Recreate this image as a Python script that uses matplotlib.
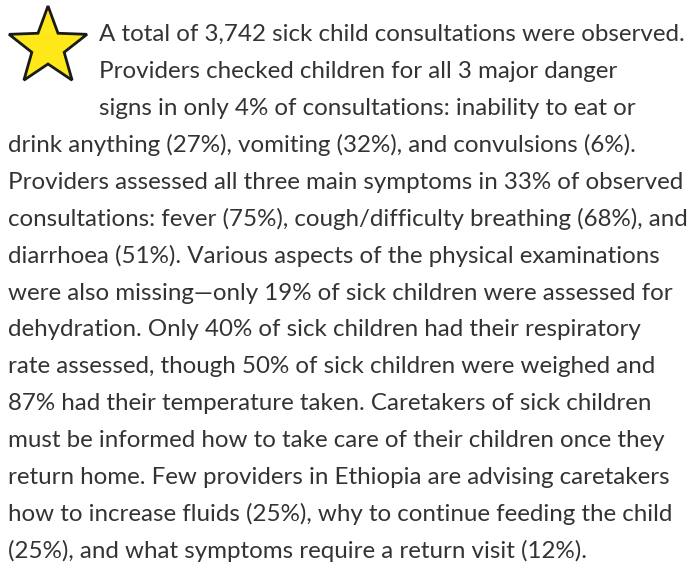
import numpy as np
import matplotlib
matplotlib.use("Agg")
import matplotlib.pyplot as plt
from matplotlib.patches import Polygon

W, H = 689, 569
lines = [
    "A total of 3,742 sick child consultations were observed.",
    "Providers checked children for all 3 major danger",
    "signs in only 4% of consultations: inability to eat or",
    "drink anything (27%), vomiting (32%), and convulsions (6%).",
    "Providers assessed all three main symptoms in 33% of observed",
    "consultations: fever (75%), cough/difficulty breathing (68%), and",
    "diarrhoea (51%). Various aspects of the physical examinations",
    "were also missing\u2014only 19% of sick children were assessed for",
    "dehydration. Only 40% of sick children had their respiratory",
    "rate assessed, though 50% of sick children were weighed and",
    "87% had their temperature taken. Caretakers of sick children",
    "must be informed how to take care of their children once they",
    "return home. Few providers in Ethiopia are advising caretakers",
    "how to increase fluids (25%), why to continue feeding the child",
    "(25%), and what symptoms require a return visit (12%).",
]
indent_lines = 3

fig = plt.figure(figsize=(W / 100, H / 100), dpi=100)
fig.patch.set_facecolor("white")
ax = fig.add_axes([0, 0, 1, 1])
ax.set_xlim(0, W)
ax.set_ylim(H, 0)
ax.axis("off")

# star
cx, cy, R, r = 48, 47, 41, 17
ang = np.deg2rad(-90 + np.arange(10) * 36)
rad = np.where(np.arange(10) % 2 == 0, R, r)
pts = np.column_stack([cx + rad * np.cos(ang), cy + rad * np.sin(ang)])
ax.add_patch(Polygon(pts, closed=True, facecolor="#FFE81A", edgecolor="#1a1a1a",
                     linewidth=2.0, joinstyle="miter"))

y0, dy = 41, 36.93
for i, s in enumerate(lines):
    x = 99 if i < indent_lines else 8
    ax.text(x, y0 + i * dy, s, fontsize=17.35, family="Lato", color="#333333",
            ha="left", va="baseline")

fig.savefig("out.png", dpi=100, facecolor="white")
